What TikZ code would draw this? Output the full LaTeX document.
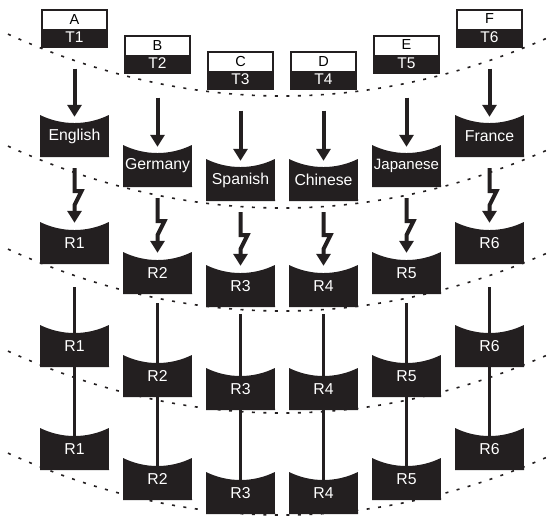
\documentclass[tikz,border=0pt]{standalone}
\usepackage{fontspec}
\setmainfont{Liberation Sans}
\usetikzlibrary{arrows.meta,calc,backgrounds}
\definecolor{dk}{RGB}{35,31,32}
\tikzset{
  cshape/.style={minimum width=69pt, minimum height=42pt, inner sep=0pt, text=white,
    font=\fontsize{15.8}{18}\selectfont,
    path picture={\fill[dk] (path picture bounding box.south west) -- (path picture bounding box.north west)
      arc[start angle=243.8, end angle=296.2, radius=78pt] -- (path picture bounding box.south east) -- cycle;}},
  tbox/.style={draw=dk, line width=1.4pt, fill=white, minimum width=65pt, minimum height=37pt,
    inner sep=0pt, align=center, font=\fontsize{15.5}{18.9}\selectfont,
    path picture={\fill[dk] (path picture bounding box.west) rectangle (path picture bounding box.south east);}},
  arr/.style={draw=dk, line width=4pt, -{Triangle[length=12pt,width=14pt]}},
  bolt/.style={draw=dk, line width=4pt, -{Triangle[length=12pt,width=14pt]}},
  stem/.style={draw=dk, line width=3.5pt},
  dots/.style={draw=dk, line width=1.6pt, dash pattern=on 3pt off 8.5pt},
}
\begin{document}
\begin{tikzpicture}[x=1pt,y=1pt]
\useasboundingbox (0,0) rectangle (551,-515);
\foreach \m in {96,208,311,413,515}
  \draw[dots] plot[domain=8:551,samples=90] (\x,{-(\m-8.24*((\x-282)/100)^2)});
\foreach \n/\x/\b/\ya/\yb/\yc/\yd/\L/\T/\lang/\R/\sa/\sl in {
  a/74.5/28.5/115/222/325/428/A/T1/English/R1/21/23,
  b/157.5/54.5/145/252/355/458/B/T2/Germany/R2/24/9,
  c/240.5/70.5/159/265/368/472/C/T3/Spanish/R3/21/7,
  d/323.5/70.5/159/265/368/472/D/T4/Chinese/R4/21/7,
  e/406.5/54.5/145/252/355/458/E/T5/{\fontsize{15}{18}\selectfont Japanese}/R5/24/9,
  f/489.5/28.5/115/222/325/428/F/T6/France/R6/21/23}{
  \node[tbox] (\n0) at (\x,-\b) {{\fontsize{14.5}{18.9}\selectfont \L}\\\textcolor{white}{\T}};
  \node[cshape] (\n1) at (\x,-\ya-21) {\lang};
  \node[cshape] (\n2) at (\x,-\yb-21) {\R};
  \node[cshape] (\n3) at (\x,-\yc-21) {\R};
  \node[cshape] (\n4) at (\x,-\yd-21) {\R};
  \draw[arr] ([yshift=-\sa pt]\n0.south) -- ([yshift=-2pt]\n1.north);
  \draw[bolt] ([yshift=-11pt]\n1.south) -- ++(0,-23) -- ++(7,0) -- ++(-7,-14) -- ([yshift=-1pt]\n2.north);
  \begin{scope}[on background layer]
    \draw[stem] ([yshift=-\sl pt]\n2.south) -- (\n4.center);
  \end{scope}
}
\end{tikzpicture}
\end{document}
